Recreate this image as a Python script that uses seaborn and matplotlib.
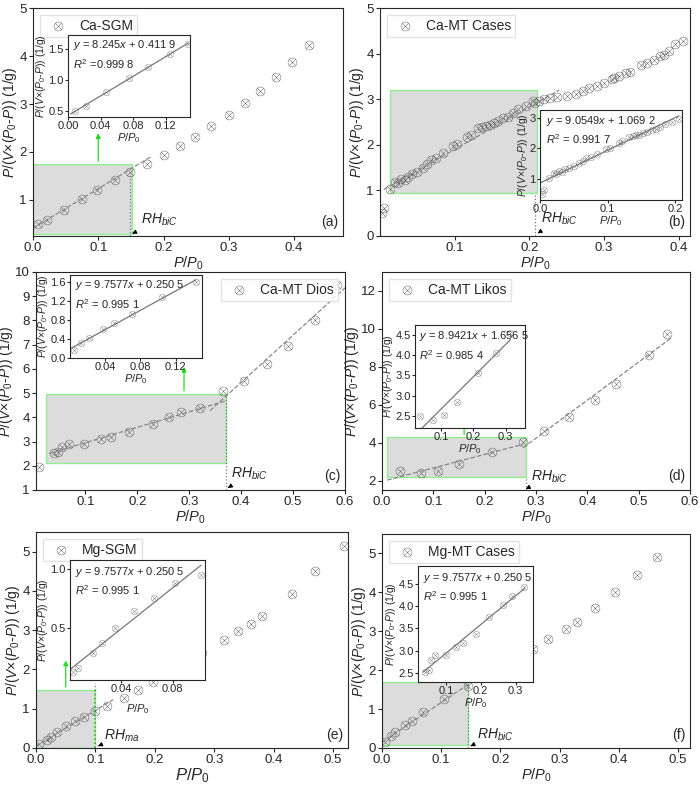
import numpy as np
import pandas as pd
import seaborn as sns
import matplotlib.pyplot as plt
from matplotlib.patches import Rectangle

sns.set_style("ticks")
plt.rcParams['font.family'] = ['Liberation Sans', 'DejaVu Sans']
plt.rcParams['mathtext.fontset'] = 'custom'
plt.rcParams['mathtext.rm'] = 'Liberation Sans'
plt.rcParams['mathtext.it'] = 'Liberation Sans:italic'

# ---- data ----
a_x = [0.008, 0.022, 0.047, 0.075, 0.098, 0.125, 0.148, 0.175, 0.2, 0.225, 0.248, 0.273, 0.3, 0.325, 0.348, 0.373, 0.397, 0.423]
a_y = [0.49, 0.58, 0.8, 1.02, 1.21, 1.41, 1.58, 1.76, 1.93, 2.13, 2.32, 2.55, 2.78, 3.03, 3.28, 3.56, 3.88, 4.22]
a_in_x = a_x[:7]
a_in_y = a_y[:7]

b_x = [0.003, 0.006, 0.013, 0.02, 0.024, 0.028, 0.033, 0.037, 0.043, 0.05, 0.057, 0.063, 0.068, 0.075, 0.085,
       0.098, 0.103, 0.117, 0.122, 0.131, 0.137, 0.142, 0.147, 0.152, 0.158, 0.165, 0.171, 0.178, 0.185, 0.195,
       0.205, 0.208, 0.213, 0.22, 0.227, 0.237, 0.25, 0.263, 0.272, 0.28, 0.29, 0.3, 0.31, 0.313, 0.32, 0.329,
       0.335, 0.35, 0.357, 0.367, 0.375, 0.38, 0.387, 0.395, 0.405]
b_y = [0.5, 0.62, 1.03, 1.19, 1.16, 1.25, 1.22, 1.3, 1.35, 1.4, 1.5, 1.58, 1.67, 1.72, 1.82, 1.98, 2.02, 2.18,
       2.22, 2.37, 2.4, 2.42, 2.44, 2.48, 2.52, 2.58, 2.62, 2.7, 2.78, 2.85, 2.97, 2.92, 2.96, 3.0, 3.03, 3.05,
       3.07, 3.12, 3.18, 3.25, 3.28, 3.35, 3.45, 3.46, 3.5, 3.57, 3.6, 3.75, 3.8, 3.85, 3.95, 3.97, 4.05, 4.2, 4.28]
b_in_x = b_x[:31]
b_in_y = b_y[:31]

c_x = [0.01, 0.04, 0.048, 0.055, 0.068, 0.098, 0.13, 0.15, 0.185, 0.23, 0.262, 0.285, 0.32, 0.365, 0.405, 0.45, 0.49, 0.543, 0.585]
c_y = [1.97, 2.52, 2.58, 2.78, 2.9, 2.9, 3.1, 3.18, 3.38, 3.72, 4.02, 4.2, 4.4, 5.08, 5.48, 6.22, 6.95, 8.02, 9.45]
c_in_x = [0.005, 0.013, 0.022, 0.038, 0.05, 0.07, 0.105, 0.143]
c_in_y = [0.17, 0.32, 0.42, 0.62, 0.73, 0.93, 1.28, 1.6]

d_x = [0.035, 0.075, 0.11, 0.15, 0.215, 0.275, 0.315, 0.365, 0.415, 0.455, 0.52, 0.555]
d_y = [2.5, 2.4, 2.52, 2.85, 3.52, 4.05, 4.6, 5.35, 6.25, 7.1, 8.6, 9.75]
d_in_x = [0.035, 0.075, 0.11, 0.15, 0.215, 0.27, 0.315]
d_in_y = [2.5, 2.4, 2.52, 2.85, 3.55, 4.05, 4.55]

e_x = [0.005, 0.018, 0.025, 0.035, 0.05, 0.065, 0.08, 0.1, 0.12, 0.148, 0.172, 0.197, 0.222, 0.247, 0.28,
       0.317, 0.34, 0.362, 0.38, 0.43, 0.47, 0.518]
e_y = [0.1, 0.2, 0.28, 0.42, 0.55, 0.68, 0.8, 0.95, 1.07, 1.28, 1.48, 1.68, 1.9, 2.1, 2.43, 2.75, 2.97, 3.17,
       3.35, 3.92, 4.5, 5.15]
e_in_x = [0.002, 0.006, 0.018, 0.025, 0.035, 0.05, 0.065, 0.082, 0.102]
e_in_y = [0.12, 0.15, 0.28, 0.37, 0.5, 0.64, 0.75, 0.88, 0.95]

f_x = [0.005, 0.015, 0.022, 0.038, 0.05, 0.07, 0.105, 0.145, 0.175, 0.2, 0.228, 0.255, 0.28, 0.31, 0.33,
       0.36, 0.393, 0.43, 0.465]
f_y = [0.15, 0.3, 0.4, 0.6, 0.7, 0.92, 1.27, 1.6, 1.87, 2.05, 2.3, 2.55, 2.8, 3.05, 3.25, 3.6, 4.0, 4.45, 4.92]
f_in_x = [0.04, 0.052, 0.058, 0.07, 0.1, 0.13, 0.15, 0.185, 0.225, 0.265, 0.29, 0.325]
f_in_y = [2.52, 2.58, 2.8, 2.9, 2.9, 3.08, 3.18, 3.38, 3.75, 4.03, 4.22, 4.42]

YLAB = r'$P/(V{\times}(P_0$-$P))$ (1/g)'
XLAB = r'$P/P_0$'
MK = r'$\otimes$'

fig = plt.figure(figsize=(7, 7.87), dpi=100)
W, H = 700, 787


def box(l, t, r, b):
    return [l / W, 1 - b / H, (r - l) / W, (b - t) / H]


def pts(ax, x, y, s=45, label=None):
    sns.scatterplot(x=x, y=y, ax=ax, marker=MK, s=s, color='#444444', linewidth=0, label=label, legend=label is not None)


def panel(pos, x, y, name, letter, xlim, ylim, xt, yt, lpos='upper left', xlsize=10.5):
    ax = fig.add_axes(box(*pos))
    pts(ax, x, y, label=name)
    ax.set_xlim(xlim)
    ax.set_ylim(ylim)
    ax.set_xticks(xt)
    ax.set_yticks(yt)
    ax.tick_params(labelsize=9.5, direction='out', length=3, pad=1.5)
    ax.set_xlabel(XLAB, fontsize=xlsize, labelpad=0)
    ax.set_ylabel(YLAB, fontsize=10, labelpad=0)
    ax.legend(loc=lpos, fontsize=10, frameon=True, fancybox=False, edgecolor='#dddddd', handletextpad=0.5, borderpad=0.3)
    ax.text(0.985, 0.03, letter, transform=ax.transAxes, ha='right', va='bottom', fontsize=10)
    return ax


def inset(pos, x, y, xlim, ylim, xt, yt, eq):
    ax = fig.add_axes(box(*pos))
    pts(ax, x, y, s=24)
    k, c = np.polyfit(x, y, 1)
    ax.plot([min(x) - 0.005, max(x)], [k * (min(x) - 0.005) + c, k * max(x) + c], color='#777777', lw=0.9)
    ax.set_xlim(xlim)
    ax.set_ylim(ylim)
    ax.set_xticks(xt)
    ax.set_yticks(yt)
    ax.tick_params(labelsize=8, length=2, pad=1)
    ax.set_xlabel(XLAB, fontsize=8, labelpad=0)
    ax.set_ylabel(YLAB, fontsize=7.5, labelpad=0)
    ax.text(0.04, 0.96, eq, transform=ax.transAxes, ha='left', va='top', fontsize=8, linespacing=1.4)
    return ax


def region(ax, x0, y0, x1, y1):
    ax.add_patch(Rectangle((x0, y0), x1 - x0, y1 - y0, facecolor='#dcdcdc', edgecolor='#90ee90', lw=1, zorder=0))


def rh(ax, x, y0, text, tx, ty):
    ax.annotate(text, xy=(x, y0), xytext=(tx, ty), fontsize=10,
                arrowprops=dict(arrowstyle='-|>', color='black', lw=0.8, mutation_scale=6))


green = dict(arrowstyle='-|>', color='#22dd22', lw=0.9, mutation_scale=7)

# (a)
ax = panel((33, 8, 343, 236), a_x, a_y, 'Ca-SGM', '(a)', (0, 0.475), (0.25, 5), np.arange(0, 0.41, 0.1), [1, 2, 3, 4, 5])
region(ax, 0, 0.3, 0.152, 1.75)
ax.plot([0, 0.18], [0.4119, 0.4119 + 8.245 * 0.18], '--', color='#888888', lw=0.9)
ax.vlines(0.148, 0.25, 1.62, colors='#777777', linestyles=':', lw=0.9)
ax.annotate('', xy=(0.1, 2.45), xytext=(0.1, 1.75), arrowprops=green)
rh(ax, 0.148, 0.27, r'$RH_{biC}$', 0.165, 0.5)
inset((68, 35, 190, 117), a_in_x, a_in_y, (0, 0.15), (0.4, 1.72), [0, 0.04, 0.08, 0.12], [0.5, 1.0, 1.5],
      '$y$ = 8.245$x$ + 0.411 9\n$R^2$ =0.999 8')

# (b)
ax = panel((380, 8, 690, 236), b_x, b_y, 'Ca-MT Cases', '(b)', (0, 0.415), (0, 5), [0.1, 0.2, 0.3, 0.4], [0, 1, 2, 3, 4, 5])
region(ax, 0.013, 0.95, 0.21, 3.2)
ax.plot([0.005, 0.24], [0.97 + 9.3 * 0.005, 0.97 + 9.3 * 0.24], '--', color='#888888', lw=0.9)
ax.vlines(0.208, 0, 0.95, colors='#777777', linestyles=':', lw=0.9)
ax.annotate('', xy=(0.228, 2.55), xytext=(0.21, 2.55), arrowprops=green)
rh(ax, 0.208, 0.02, r'$RH_{biC}$', 0.215, 0.3)
inset((540, 110, 682, 200), b_in_x, b_in_y, (0, 0.21), (0.3, 3.25), [0.0, 0.1, 0.2], [1, 2, 3],
      '$y$ = 9.0549$x$ + 1.069 2\n$R^2$ = 0.991 7')

# (c)
ax = panel((36, 272, 345, 490), c_x, c_y, 'Ca-MT Dios', '(c)', (0.005, 0.6), (1, 10), [0.1, 0.2, 0.3, 0.4, 0.5, 0.6],
           range(1, 11), lpos='upper right')
region(ax, 0.025, 2.1, 0.37, 4.98)
lo = np.polyfit(c_x[1:13], c_y[1:13], 1)
hi = np.polyfit(c_x[13:], c_y[13:], 1)
ax.plot([0.03, 0.37], np.polyval(lo, [0.03, 0.37]), '--', color='#888888', lw=0.9)
ax.plot([0.34, 0.6], np.polyval(hi, [0.34, 0.6]), '--', color='#888888', lw=0.9)
ax.vlines(0.37, 1, 4.98, colors='#777777', linestyles=':', lw=0.9)
ax.annotate('', xy=(0.29, 6.2), xytext=(0.29, 4.98), arrowprops=green)
rh(ax, 0.37, 1.02, r'$RH_{biC}$', 0.38, 1.5)
inset((70, 275, 202, 358), c_in_x, c_in_y, (0, 0.15), (0, 1.75), [0.04, 0.08, 0.12], [0.0, 0.4, 0.8, 1.2, 1.6],
      '$y$ = 9.7577$x$ + 0.250 5\n$R^2$ = 0.995 1')

# (d)
ax = panel((382, 272, 690, 490), d_x, d_y, 'Ca-MT Likos', '(d)', (0, 0.6), (1.5, 13), np.arange(0, 0.61, 0.1),
           [2, 4, 6, 8, 10, 12])
region(ax, 0.01, 2.2, 0.28, 4.3)
lo = np.polyfit(d_x[:6], d_y[:6], 1)
hi = np.polyfit(d_x[5:], d_y[5:], 1)
ax.plot([0.01, 0.275], np.polyval(lo, [0.01, 0.275]), '--', color='#888888', lw=0.9)
ax.plot([0.275, 0.565], np.polyval(hi, [0.275, 0.565]), '--', color='#888888', lw=0.9)
ax.vlines(0.28, 1.5, 2.2, colors='#777777', linestyles=':', lw=0.9)
ax.annotate('', xy=(0.16, 6.0), xytext=(0.16, 4.3), arrowprops=green)
rh(ax, 0.28, 1.55, r'$RH_{biC}$', 0.29, 2.0)
inset((415, 325, 525, 428), d_in_x, d_in_y, (0.02, 0.36), (2.2, 4.75), [0.1, 0.2, 0.3], [2.5, 3.0, 3.5, 4.0, 4.5],
      '$y$ = 8.9421$x$ + 1.656 5\n$R^2$ = 0.985 4')

# (e)
ax = panel((36, 532, 348, 748), e_x, e_y, 'Mg-SGM', '(e)', (0, 0.525), (0, 5.5), np.arange(0, 0.51, 0.1),
           range(0, 6), xlsize=12)
region(ax, 0, 0, 0.1, 1.48)
ax.plot([0, 0.13], [0.05, 0.05 + 9.1 * 0.13], '--', color='#888888', lw=0.9)
ax.vlines(0.1, 1.48, 1.65, colors='#777777', linestyles=':', lw=0.9)
ax.vlines(0.1, 0, 1.48, colors='#22aa22', linestyles=':', lw=1.1)
ax.annotate('', xy=(0.05, 2.3), xytext=(0.05, 1.48), arrowprops=green)
rh(ax, 0.1, 0.02, r'$RH_{ma}$', 0.115, 0.22)
inset((70, 560, 205, 680), e_in_x, e_in_y, (0, 0.105), (0.05, 1.08), [0.04, 0.08], [0.5, 1.0],
      '$y$ = 9.7577$x$ + 0.250 5\n$R^2$ = 0.995 1')
fig.axes[-1].xaxis.labelpad = 6

# (f)
ax = panel((382, 534, 690, 748), f_x, f_y, 'Mg-MT Cases', '(f)', (0, 0.52), (0, 5.5), np.arange(0, 0.51, 0.1),
           range(0, 6))
region(ax, 0, 0.08, 0.145, 1.7)
ax.plot([0, 0.185], [0.15, 0.15 + 10.2 * 0.185], '--', color='#888888', lw=0.9)
ax.vlines(0.145, 0, 1.8, colors='#777777', linestyles=':', lw=0.9)
ax.annotate('', xy=(0.135, 2.3), xytext=(0.135, 1.7), arrowprops=green)
rh(ax, 0.145, 0.02, r'$RH_{biC}$', 0.16, 0.25)
inset((418, 566, 533, 682), f_in_x, f_in_y, (0.02, 0.35), (2.3, 4.9), [0.1, 0.2, 0.3], [2.5, 3.0, 3.5, 4.0, 4.5],
      '$y$ = 9.7577$x$ + 0.250 5\n$R^2$ = 0.995 1')

fig.savefig('out.png', dpi=100)
